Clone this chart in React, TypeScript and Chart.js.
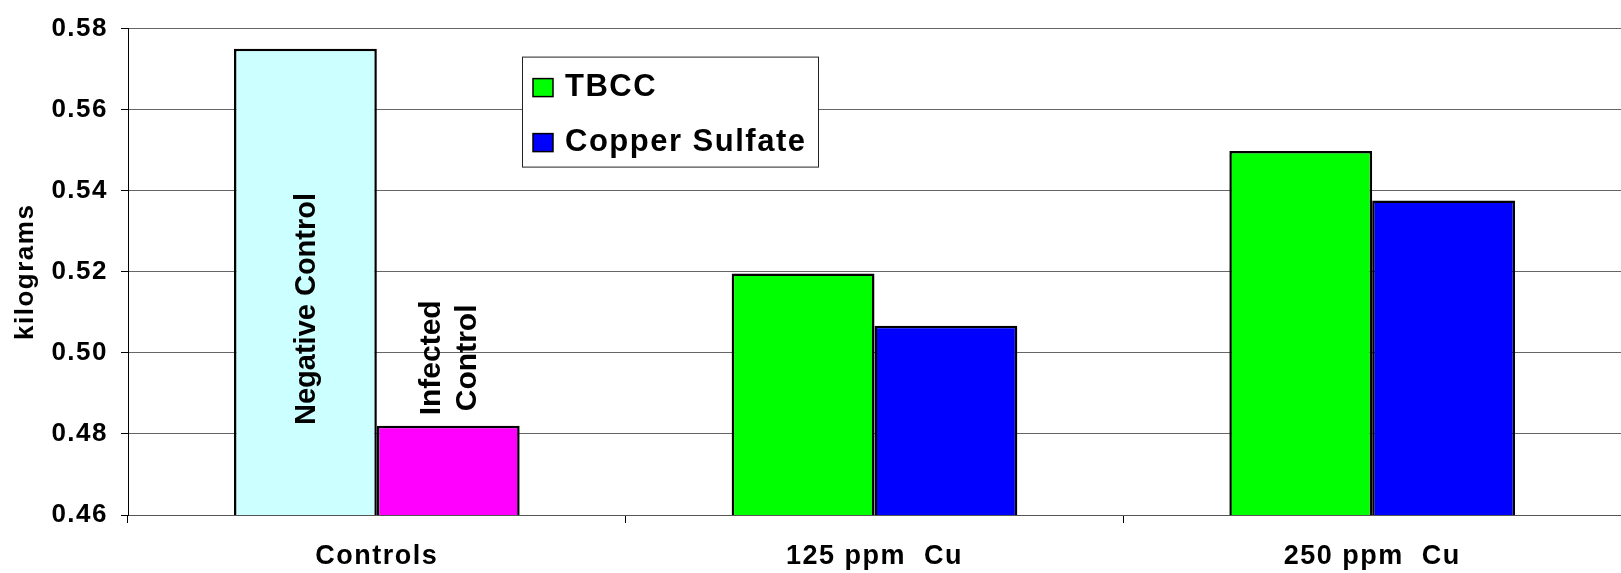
import React, { useEffect, useRef } from "react";
import { Chart, registerables } from "chart.js";

Chart.register(...registerables);

const categories = ["Controls", "125 ppm  Cu", "250 ppm  Cu"];
const seriesNames = ["TBCC", "Copper Sulfate"];
const tbccValues = [0.575, 0.5196, 0.5498];
const copperValues = [0.482, 0.5067, 0.5376];
const tbccColors = ["#CCFFFF", "#00FF00", "#00FF00"];
const copperColors = ["#FF00FF", "#0000FF", "#0000FF"];
const legendColors = ["#00FF00", "#0000FF"];
const controlLabels = ["Negative Control", ["Infected", "Control"]];
const yMin = 0.46;
const yMax = 0.58;
const yStep = 0.02;

const FONT = "'Liberation Sans', Arial, sans-serif";
const SPACING = "1.5px";

const overlayPlugin = {
  id: "overlay",
  beforeUpdate(chart: any) {
    chart.ctx.letterSpacing = SPACING;
  },
  beforeDraw(chart: any) {
    chart.ctx.letterSpacing = SPACING;
  },
  afterDatasetsDraw(chart: any) {
    const ctx = chart.ctx;
    const negBar = chart.getDatasetMeta(0).data[0];
    const infBar = chart.getDatasetMeta(1).data[0];
    const bottom = chart.scales.y.getPixelForValue(yMin);
    ctx.save();
    ctx.letterSpacing = "0px";
    ctx.fillStyle = "#000";
    // Negative Control
    ctx.save();
    ctx.font = `bold 29px ${FONT}`;
    ctx.translate(negBar.x + 2, bottom - 90);
    ctx.rotate(-Math.PI / 2);
    ctx.textAlign = "left";
    ctx.textBaseline = "middle";
    ctx.fillText(controlLabels[0] as string, 0, 0);
    ctx.restore();
    // Infected Control
    const lines = controlLabels[1] as string[];
    ctx.save();
    ctx.font = `bold 30px ${FONT}`;
    ctx.translate(infBar.x, infBar.y - 68);
    ctx.rotate(-Math.PI / 2);
    ctx.textAlign = "center";
    ctx.textBaseline = "middle";
    ctx.fillText(lines[0], 0, -17);
    ctx.fillText(lines[1], 0, 19);
    ctx.restore();
    ctx.restore();
  },
  afterDraw(chart: any) {
    const ctx = chart.ctx;
    const area = chart.chartArea;
    const bx = area.left + 394;
    const by = area.top + 28;
    const bw = 296;
    const bh = 110;
    ctx.save();
    ctx.fillStyle = "#fff";
    ctx.fillRect(bx, by, bw, bh);
    ctx.strokeStyle = "#222";
    ctx.lineWidth = 1;
    ctx.strokeRect(bx + 0.5, by + 0.5, bw, bh);
    ctx.font = `bold 31px ${FONT}`;
    ctx.letterSpacing = "1.5px";
    ctx.textAlign = "left";
    ctx.textBaseline = "alphabetic";
    seriesNames.forEach((name, i) => {
      const rowY = by + 22 + i * 55;
      ctx.fillStyle = legendColors[i];
      ctx.fillRect(bx + 11, rowY, 20, 18);
      ctx.strokeStyle = "#000";
      ctx.lineWidth = 1.5;
      ctx.strokeRect(bx + 11, rowY, 20, 18);
      ctx.fillStyle = "#000";
      ctx.fillText(name, bx + 43, rowY + 17);
    });
    ctx.restore();
  },
};

export default function App() {
  const canvasRef = useRef<HTMLCanvasElement | null>(null);

  useEffect(() => {
    document.body.style.margin = "0";
    const canvas = canvasRef.current;
    if (!canvas) return;
    const chart = new Chart(canvas, {
      type: "bar",
      data: {
        labels: categories,
        datasets: [
          {
            label: seriesNames[0],
            data: tbccValues,
            backgroundColor: tbccColors,
            borderColor: "#000",
            borderWidth: 2.5,
            borderSkipped: false,
            categoryPercentage: 0.574,
            barPercentage: 1,
          },
          {
            label: seriesNames[1],
            data: copperValues,
            backgroundColor: copperColors,
            borderColor: "#000",
            borderWidth: 2.5,
            borderSkipped: false,
            categoryPercentage: 0.574,
            barPercentage: 1,
          },
        ],
      },
      options: {
        responsive: false,
        animation: false,
        maintainAspectRatio: false,
        layout: { padding: { top: 28, right: 0, left: 0, bottom: 0 } },
        plugins: {
          legend: { display: false },
          tooltip: { enabled: false },
        },
        scales: {
          x: {
            offset: true,
            grid: {
              display: true,
              drawOnChartArea: false,
              offset: true,
              tickLength: 8,
              tickColor: "#000",
              tickWidth: 1,
            },
            border: { display: true, color: "#555", width: 1 },
            ticks: {
              color: "#000",
              padding: 17,
              maxRotation: 0,
              font: { family: FONT, size: 27, weight: "bold" },
            },
            afterFit(scale: any) {
              scale.height = 58;
            },
          },
          y: {
            min: yMin,
            max: yMax,
            grid: {
              color: "#666",
              lineWidth: 1,
              tickLength: 7,
              tickColor: "#000",
            },
            border: { display: true, color: "#000", width: 1 },
            ticks: {
              stepSize: yStep,
              color: "#000",
              padding: 13,
              font: { family: FONT, size: 26, weight: "bold" },
              callback: (v: any) => Number(v).toFixed(2),
            },
            title: {
              display: true,
              text: "kilograms",
              color: "#000",
              padding: { top: 10, bottom: 0 },
              font: { family: FONT, size: 26, weight: "bold", lineHeight: 1.2 },
            },
            afterFit(scale: any) {
              scale.width = 128;
            },
          },
        },
      },
      plugins: [overlayPlugin],
    });
    return () => chart.destroy();
  }, []);

  return (
    <div style={{ width: 1621, height: 573, position: "relative" }}>
      <canvas ref={canvasRef} width={1621} height={573} style={{ display: "block" }} />
    </div>
  );
}
